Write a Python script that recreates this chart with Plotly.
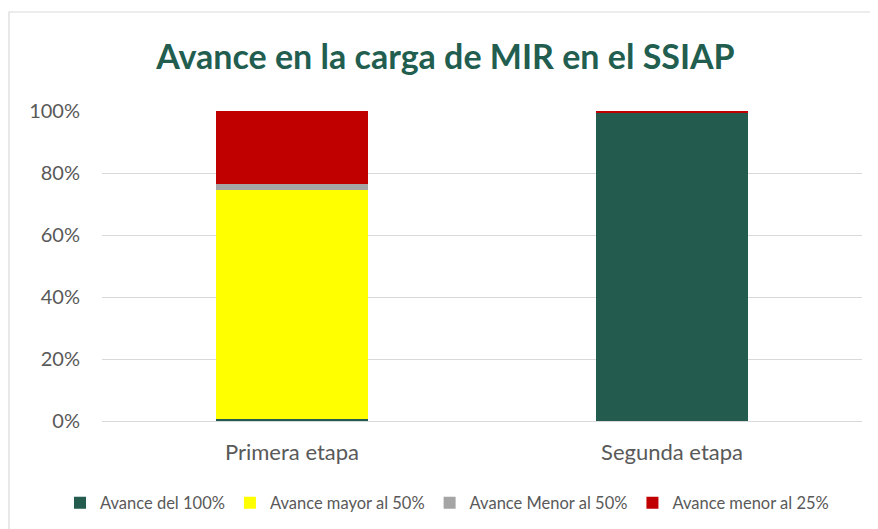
import plotly.graph_objects as go

categories = ["Primera etapa", "Segunda etapa"]
series_names = ["Avance del 100%", "Avance mayor al 50%", "Avance Menor al 50%", "Avance menor al 25%"]
avance_100 = [0.007, 0.995]
avance_mayor_50 = [0.737, 0.0]
avance_menor_50 = [0.020, 0.0]
avance_menor_25 = [0.236, 0.005]
colors = ["#235B4E", "#FFFF00", "#A5A5A5", "#C00000"]
y_ticks = [0, 0.2, 0.4, 0.6, 0.8, 1.0]

# page body has an 8px margin; work in reference pixel coords and shift
OFF = 8
W, H = 878 - OFF, 529 - OFF
L, R, T, B = 102 - OFF, 16, 111 - OFF, 108
pw, ph = W - L - R, H - T - B

def px_x(x):
    return (x - OFF - L) / pw

def px_y(y):
    return (H - B - (y - OFF)) / ph

fig = go.Figure()
for name, vals, col in zip(series_names, [avance_100, avance_mayor_50, avance_menor_50, avance_menor_25], colors):
    fig.add_trace(go.Bar(x=categories, y=vals, name=name, marker=dict(color=col, line=dict(width=0)),
                         hoverinfo="skip"))

font_family = "Lato, 'Open Sans', sans-serif"
fig.update_layout(
    width=W, height=H,
    margin=dict(l=L, r=R, t=T, b=B, autoexpand=False),
    barmode="stack", bargap=0.6,
    paper_bgcolor="white", plot_bgcolor="white",
    font=dict(family=font_family, color="#595959"),
    title=dict(text="<b>Avance en la carga de MIR en el SSIAP</b>",
               font=dict(family=font_family, size=34, color="#215E4F"),
               x=px_x(445.5), xref="paper", xanchor="center",
               y=1 - (57 - OFF) / H, yref="container", yanchor="middle"),
    xaxis=dict(showgrid=False, showline=False, zeroline=False,
               tickfont=dict(size=22, color="#595959"), ticklabelstandoff=16),
    yaxis=dict(range=[0, 1], tickvals=y_ticks, tickformat=".0%",
               showgrid=True, gridcolor="#D9D9D9", gridwidth=1,
               zeroline=True, zerolinecolor="#D9D9D9", zerolinewidth=1,
               showline=False, tickfont=dict(size=20, color="#595959"),
               ticklabelstandoff=21),
    legend=dict(orientation="h", x=px_x(60), xanchor="left",
                y=px_y(503), yanchor="middle",
                font=dict(size=16.5, color="#595959"), traceorder="normal",
                itemwidth=30, bgcolor="rgba(0,0,0,0)"),
    showlegend=True,
    shapes=[dict(type="rect", xref="paper", yref="paper",
                 x0=px_x(9), x1=px_x(882), y0=px_y(12), y1=px_y(560),
                 line=dict(color="#D9D9D9", width=1.2), fillcolor="rgba(0,0,0,0)", layer="below")],
)

fig.write_html("out.html")
